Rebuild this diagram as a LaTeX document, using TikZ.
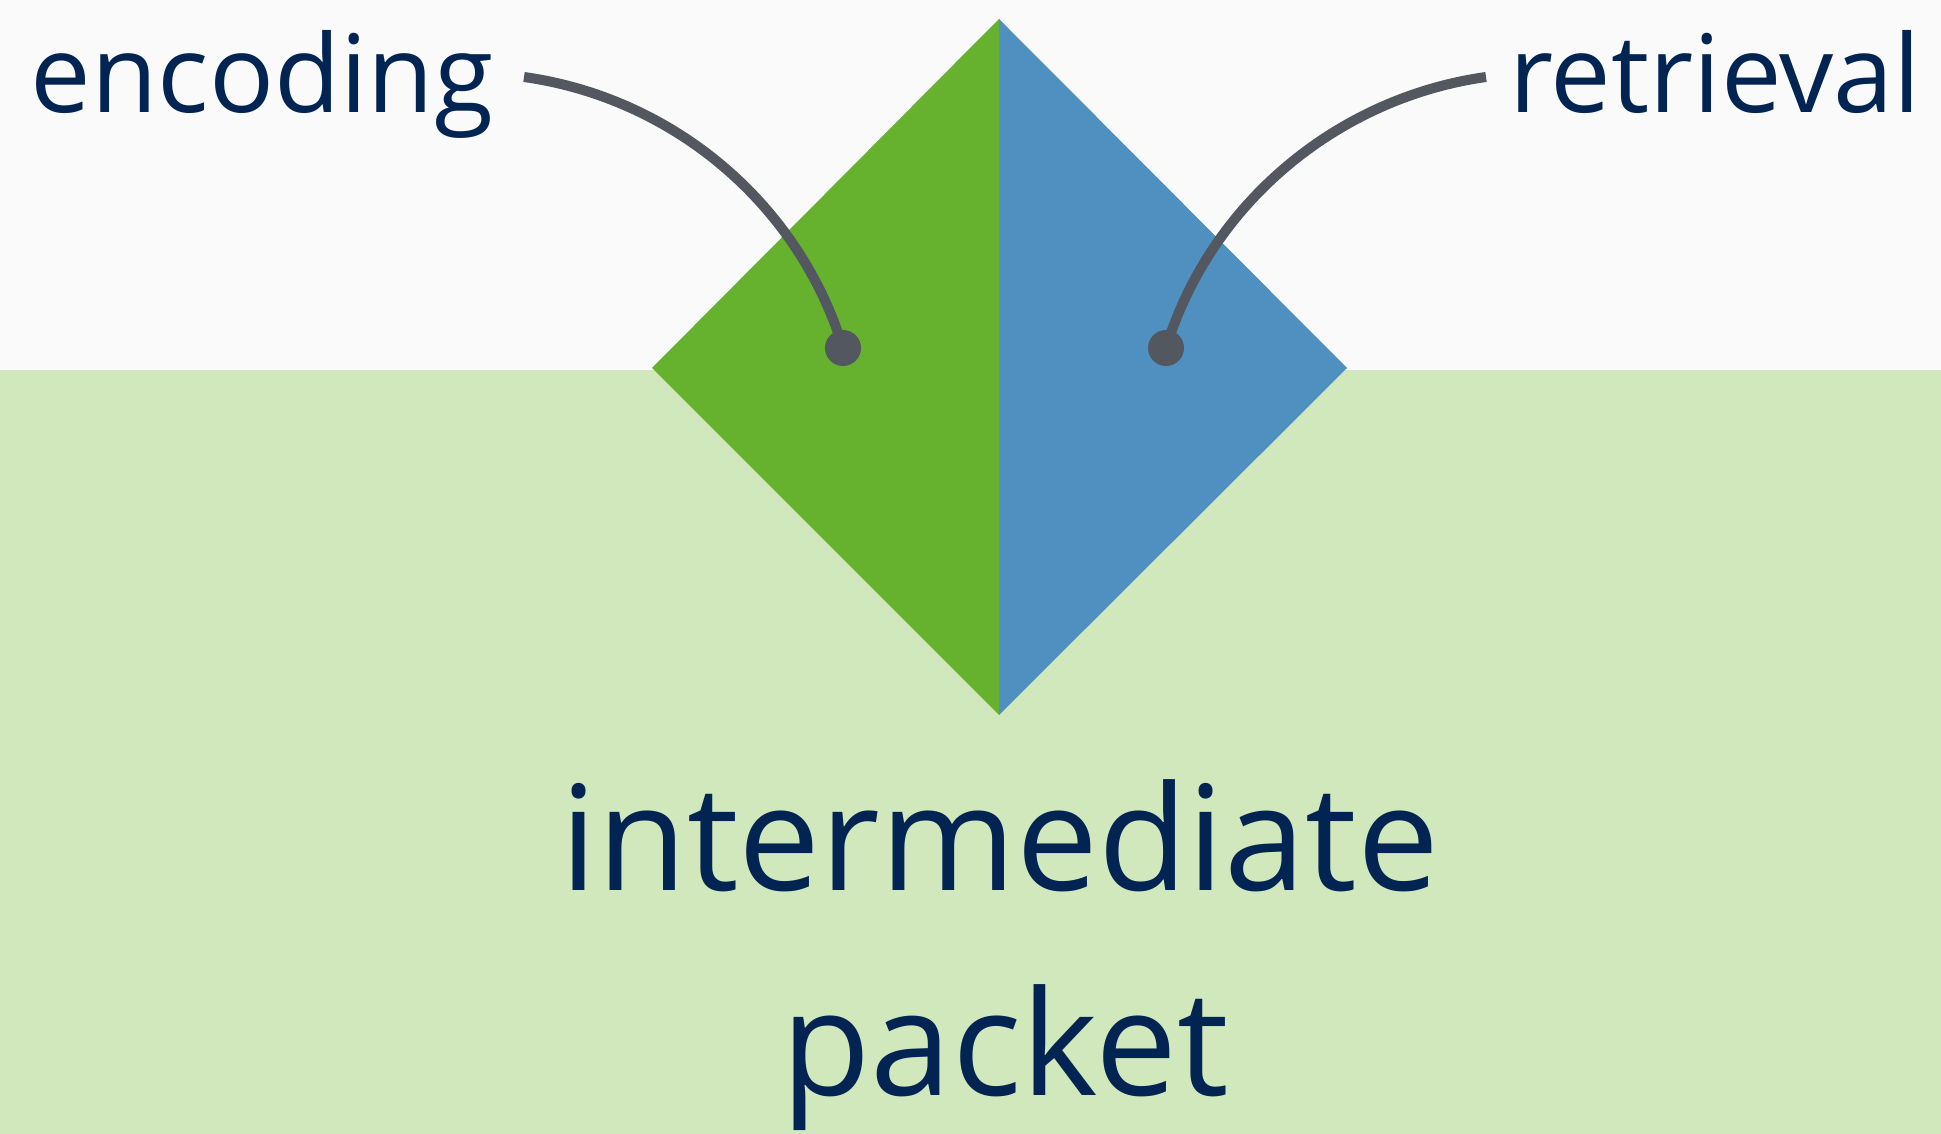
\documentclass[tikz,border=0pt]{standalone}
\usepackage{fontspec}
\setmainfont{Open Sans}

\begin{document}
\begin{tikzpicture}[x=1pt,y=1pt,
        tagText/.style={text=myInk,inner sep=0pt,anchor=base,font=\fontsize{108}{130}\selectfont},
        bigText/.style={tagText,font=\fontsize{146}{170}\selectfont},
        knob/.style={circle,fill=myWire,inner sep=0pt,minimum size=36pt},
        wire/.style={draw=myWire,line width=10pt,looseness=0.92}]
            \definecolor{myLeaf}{RGB}{102,178,47}
            \definecolor{mySky}{RGB}{79,144,192}
            \definecolor{myPale}{RGB}{209,232,189}
            \definecolor{myPaper}{RGB}{250,250,250}
            \definecolor{myInk}{RGB}{2,36,82}
            \definecolor{myWire}{RGB}{83,87,95}
            % background, two bands
            \fill[myPale] (0,0) rectangle (1941,764);
            \fill[myPaper] (0,764) rectangle (1941,1134);
            \useasboundingbox (0,0) rectangle (1941,1134);
            % the diamond, split in two halves
            \fill[myLeaf] (999,1115) -- (652,766) -- (999,419) -- cycle;
            \fill[mySky] (999,1115) -- (1347,766) -- (999,419) -- cycle;
            % labels
            \node[tagText] (encoding) at (262,1021) {encoding};
            \node[tagText] (retrieval) at (1715,1021) {retrieval};
            \node[bigText] (intermediate) at (1000,243) {intermediate};
            \node[bigText] (packet) at (1005,38) {packet};
            % dots and their wires
            \node[knob] (encDot) at (843,786) {};
            \node[knob] (retDot) at (1166,786) {};
            \coordinate (encStart) at (524,1057);
            \coordinate (retStart) at (1486,1057);
            \draw[wire] (encStart) to[out=-8,in=107] (encDot.center);
            \draw[wire] (retStart) to[out=188,in=73] (retDot.center);
        \end{tikzpicture}
\end{document}
